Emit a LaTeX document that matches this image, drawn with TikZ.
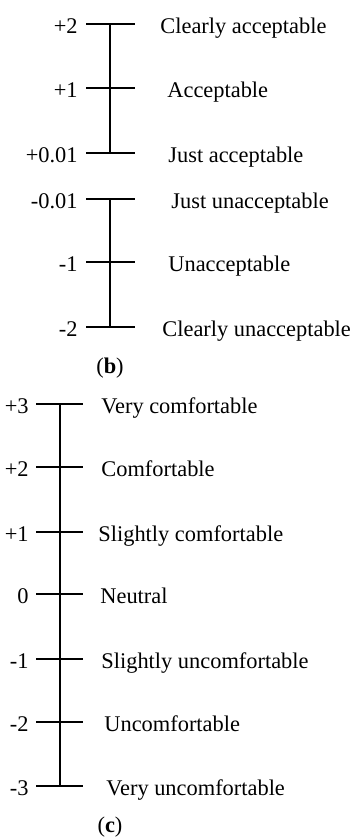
\documentclass[tikz,border=0pt]{standalone}
\usepackage{fontspec}
\setmainfont{Liberation Serif}
\begin{document}
\begin{tikzpicture}[x=0.5pt,y=-0.5pt,font=\fontsize{11.2}{13}\selectfont,
	scaleline/.style={line width=1pt},
	val/.style={anchor=base east,inner sep=0pt},
	lab/.style={anchor=base west,inner sep=0pt}]
	\useasboundingbox (0,0) rectangle (355,837);
	\foreach \y/\v/\t/\lx [count=\i] in {24/+2/Clearly acceptable/160,88/+1/Acceptable/167,153/+0.01/Just acceptable/168,199/-0.01/Just unacceptable/171,262/-1/Unacceptable/168,327/-2/Clearly unacceptable/162} {
		\coordinate (bl\i) at (86,\y);
		\coordinate (bm\i) at (110,\y);
		\coordinate (br\i) at (135,\y);
		\draw[scaleline] (bl\i) -- (br\i);
		\node[val] (bv\i) at (78,\y+9) {\v};
		\node[lab] (bt\i) at (\lx,\y+9) {\t};}
	\draw[scaleline] (bm1) -- (bm3);
	\draw[scaleline] (bm4) -- (bm6);
	\node (capb) at (110,368) {(\textbf{b})};
	\foreach \y/\v/\t/\lx [count=\i] in {404/+3/Very comfortable/101,467/+2/Comfortable/101,532/+1/Slightly comfortable/98,594/0/Neutral/100,659/-1/Slightly uncomfortable/101,722/-2/Uncomfortable/104,786/-3/Very uncomfortable/106} {
		\coordinate (cl\i) at (36,\y);
		\coordinate (cm\i) at (60,\y);
		\coordinate (cr\i) at (83,\y);
		\draw[scaleline] (cl\i) -- (cr\i);
		\node[val] (cv\i) at (29,\y+9) {\v};
		\node[lab] (ct\i) at (\lx,\y+9) {\t};}
	\draw[scaleline] (cm1) -- (cm7);
	\node (capc) at (110,827) {(\textbf{c})};
\end{tikzpicture}
\end{document}
